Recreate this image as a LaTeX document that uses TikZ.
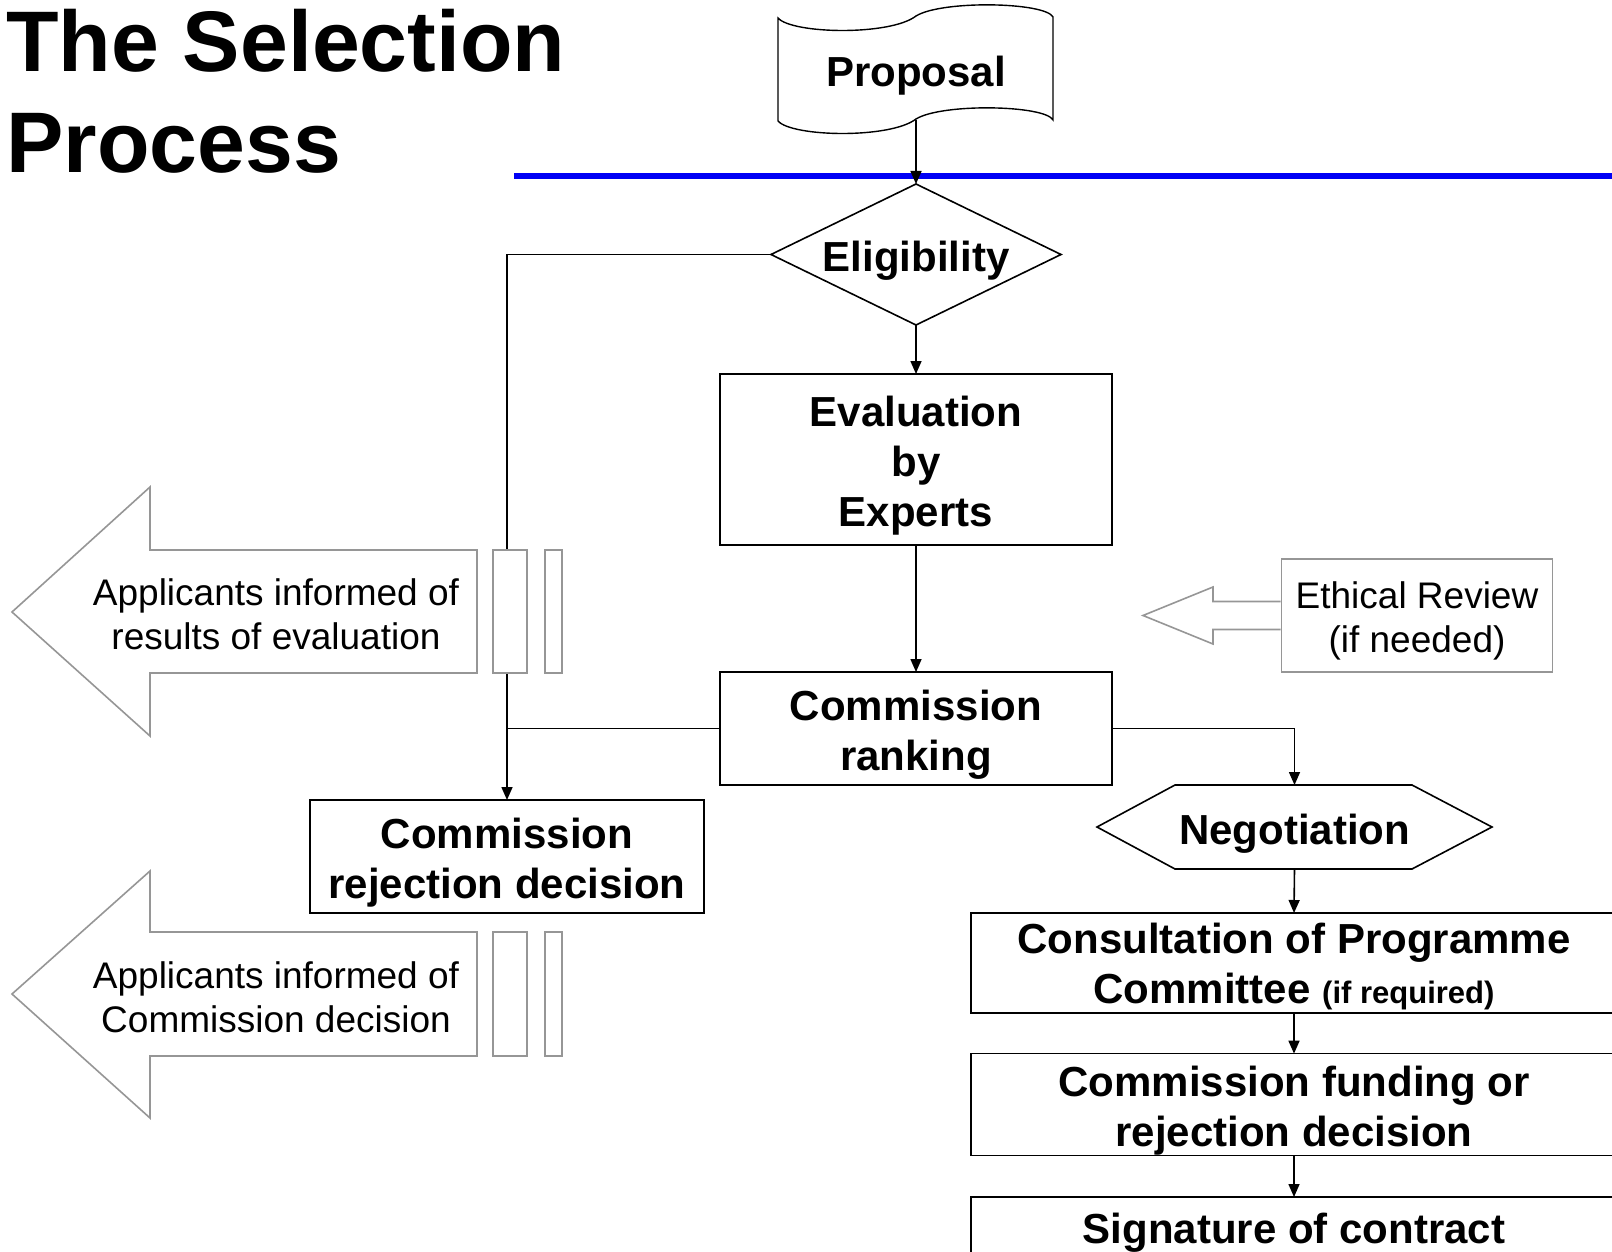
\documentclass[tikz,border=0pt]{standalone}
\usepackage{fontspec}
\setmainfont{Liberation Sans}
\usetikzlibrary{arrows.meta,calc}
\definecolor{blueline}{RGB}{0,0,245}
\definecolor{grayline}{RGB}{150,150,150}
\newcommand{\lowstrut}{\rule{0pt}{43pt}}
\newcommand{\glowstrut}{\rule{0pt}{38pt}}
\begin{document}
\begin{tikzpicture}[x=1pt,y=-1pt,
  box/.style={draw, line width=1.6pt, fill=white, font=\bfseries\fontsize{42}{50}\selectfont, align=center, inner sep=0pt, outer sep=0pt},
  bare/.style={font=\bfseries\fontsize{42}{50}\selectfont, align=center, inner sep=0pt, outer sep=0pt},
  gbox/.style={draw=grayline, line width=1.6pt, fill=white},
  gtext/.style={font=\fontsize{37}{44}\selectfont, align=center, inner sep=0pt},
  arr/.style={line width=1.6pt, -{Triangle[length=13pt,width=11pt]}},
  ln/.style={line width=1.6pt},
  titlefont/.style={anchor=base west, inner sep=0pt, font=\bfseries\fontsize{86}{101}\selectfont}]
\useasboundingbox (0,0) rectangle (1612,1252);

% title
\node[titlefont] (t1) at (6,72) {The Selection};
\node[titlefont] (t2) at (6,173) {Process};

% blue rule
\draw[blueline, line width=5.5pt] (514,176) -- (1612,176);

% proposal (document shape)
\node[bare, minimum width=275pt, minimum height=102pt] (prop) at (916,69) {\lowstrut Proposal};
\draw[ln, line width=1.4pt] (778,18) .. controls (792,34) and (890,36) .. (916,16)
  .. controls (942,0) and (1045,2) .. (1053,17) -- (1053,120)
  .. controls (1045,105) and (942,103) .. (916,119)
  .. controls (890,139) and (792,137) .. (778,121) -- cycle;

% eligibility diamond
\node[bare, minimum width=290pt, minimum height=141pt] (elig) at (916,254.5) {\lowstrut Eligibility};
\draw[ln] (elig.west) -- (elig.north) -- (elig.east) -- (elig.south) -- cycle;

% boxes
\node[box, minimum width=392pt, minimum height=171pt] (eval) at (916,459.5) {\lowstrut Evaluation\\by\\Experts};
\node[box, minimum width=392pt, minimum height=113pt] (rank) at (916,728.5) {\lowstrut Commission\\ranking};
\node[box, minimum width=394pt, minimum height=113pt] (rej) at (507,856.5) {\lowstrut Commission\\rejection decision};

% negotiation hexagon
\node[bare, minimum width=395pt, minimum height=84pt] (neg) at (1294.5,827) {\lowstrut Negotiation};
\draw[ln] (neg.west) -- ($(neg.north west)+(78,0)$) -- ($(neg.north east)+(-80,0)$) -- (neg.east)
  -- ($(neg.south east)+(-80,0)$) -- ($(neg.south west)+(78,0)$) -- cycle;

\node[box, minimum width=646pt, minimum height=100pt] (cons) at (1294,963)
  {\rule{0pt}{37pt}Consultation of Programme\\Committee {\fontsize{31}{36}\selectfont (if required)}};
\node[box, minimum width=646pt, minimum height=99pt] (fund) at (1294,1104.5)
  {\lowstrut Commission funding or\\rejection decision};
\node[box, minimum width=646pt, minimum height=64pt] (sig) at (1294,1229) {\rule{0pt}{38pt}Signature of contract};

% connectors
\draw[arr] (prop.south) -- (elig.north);
\draw[arr] (elig.south) -- (eval.north);
\draw[arr] (eval.south) -- (rank.north);
\draw[arr] (elig.west) -| (rej.north);
\draw[ln] (rank.west) -- (rank.west -| rej.north);
\draw[arr] (rank.east) -| (neg.north);
\draw[arr] (neg.south) -- (cons.north);
\draw[arr] (cons.south) -- (fund.north);
\draw[arr] (fund.south) -- (sig.north);

% gray block arrows (left)
\draw[draw=grayline, line width=1.6pt, fill=white]
  (477,550) -- (150,550) -- (150,487) -- (12,612) -- (150,736) -- (150,673) -- (477,673) -- cycle;
\node[gtext] (inf1) at (276,614) {Applicants informed of\\results of evaluation};
\draw[gbox] (493,550) rectangle (527,673);
\draw[gbox] (545,550) rectangle (562,673);

\draw[draw=grayline, line width=1.6pt, fill=white]
  (477,932) -- (150,932) -- (150,871) -- (12,994) -- (150,1118) -- (150,1056) -- (477,1056) -- cycle;
\node[gtext] (inf2) at (276,997) {Applicants informed of\\Commission decision};
\draw[gbox] (493,932) rectangle (527,1056);
\draw[gbox] (545,932) rectangle (562,1056);

% ethical review
\node[gbox, gtext, minimum width=271pt, minimum height=113pt] (eth) at (1417,615.5) {\glowstrut Ethical Review\\(if needed)};
\draw[draw=grayline, line width=1.6pt]
  ($(eth.west)+(0,-14)$) -- (1213,601.5) -- (1213,587) -- (1143,615.5) -- (1213,644) -- (1213,629.5) -- ($(eth.west)+(0,14)$);
\end{tikzpicture}
\end{document}
